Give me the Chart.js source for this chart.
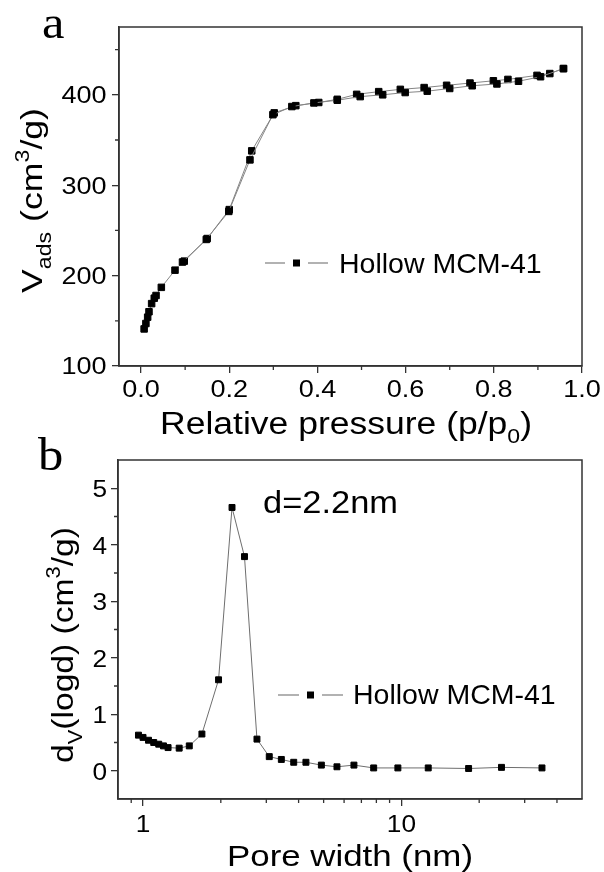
<!DOCTYPE html>
<html>
<head>
<meta charset="utf-8">
<script src="https://cdn.jsdelivr.net/npm/chart.js@4.4.1/dist/chart.umd.min.js"></script>
<style>
  body { margin: 0; background: #fff; }
  canvas { position: absolute; left: 0; }
  #chart-a { top: 0; }
  #chart-b { top: 430px; }
</style>
</head>
<body>
<canvas id="chart-a" width="604" height="450"></canvas>
<canvas id="chart-b" width="604" height="442"></canvas>
<script>
// (a) isotherm, adsorption + desorption branches
const adsP = [0.007, 0.011, 0.015, 0.018, 0.024, 0.030, 0.034, 0.046, 0.077, 0.094, 0.148, 0.199, 0.247,
              0.299, 0.342, 0.392, 0.445, 0.497, 0.548, 0.599, 0.649, 0.700, 0.751, 0.807, 0.856, 0.906, 0.958];
const adsV = [141, 147, 154, 160, 169, 175, 178, 187, 206, 215, 240, 271, 328,
              378, 387, 391, 394, 398, 400, 402.5, 404, 407, 410, 412, 415, 420, 429];
const desP = [0.958, 0.927, 0.898, 0.832, 0.799, 0.746, 0.693, 0.642, 0.588, 0.539, 0.489, 0.445,
              0.403, 0.351, 0.302, 0.251, 0.200, 0.150, 0.098];
const desV = [429, 423.5, 421.5, 417, 415.5, 413, 410.5, 408, 406, 403.5, 400.5, 395,
              391.5, 388, 380, 338, 273, 241, 216];
const ticksXA = [0, 0.2, 0.4, 0.6, 0.8, 1.0];
const minorXA = [0.1, 0.3, 0.5, 0.7, 0.9];
const ticksYA = [100, 200, 300, 400];
const minorYA = [150, 250, 350, 450];

// (b) pore size distribution
const poreD = [0.96, 1.0, 1.05, 1.10, 1.15, 1.20, 1.25, 1.38, 1.51, 1.69, 1.96, 2.21, 2.47, 2.76,
               3.08, 3.43, 3.83, 4.27, 4.90, 5.63, 6.55, 7.81, 9.69, 12.7, 18.2, 24.4, 35.0];
const poreDV = [0.63, 0.59, 0.54, 0.50, 0.47, 0.44, 0.41, 0.40, 0.44, 0.65, 1.61, 4.66, 3.79, 0.56,
                0.25, 0.20, 0.15, 0.15, 0.10, 0.07, 0.10, 0.05, 0.05, 0.05, 0.04, 0.06, 0.05];
const ticksXB = [1, 10];
const minorXB = [0.9, 2, 3, 4, 5, 6, 7, 8, 9, 20, 30, 40];
const ticksYB = [0, 1, 2, 3, 4, 5];
const minorYB = [0.5, 1.5, 2.5, 3.5, 4.5];

const seriesName = 'Hollow MCM-41';
const SANS = '"Liberation Sans", Arial, sans-serif';
const SERIF = '"Liberation Serif", "Times New Roman", serif';
const AXIS = '#333';

function xy(xs, ys) {
    return xs.map((x, i) => ({ x: x, y: ys[i] }));
}

// text with sub/superscripts, optionally squeezed/stretched to a width
function drawRich(ctx, t) {
    const parts = typeof t.text === 'string' ? [{ t: t.text }] : t.text;
    const fam = t.serif ? SERIF : SANS;
    const small = t.size * 0.65;
    ctx.save();
    ctx.fillStyle = '#000';
    ctx.textAlign = 'left';
    ctx.textBaseline = 'alphabetic';
    let w = 0;
    const widths = parts.map(p => {
        ctx.font = (p.sub || p.sup ? small : t.size) + 'px ' + fam;
        const pw = ctx.measureText(p.t).width;
        w += pw;
        return pw;
    });
    const sx = t.width ? t.width / w : (t.stretch || 1);
    ctx.translate(t.x, t.y);
    if (t.rot) ctx.rotate(t.rot);
    ctx.scale(sx, 1);
    let cx = t.align === 'left' ? 0 : t.align === 'right' ? -w : -w / 2;
    parts.forEach((p, i) => {
        ctx.font = (p.sub || p.sup ? small : t.size) + 'px ' + fam;
        const dy = p.sub ? t.size * 0.3 : p.sup ? -t.size * 0.42 : 0;
        ctx.fillText(p.t, cx, dy);
        cx += widths[i];
    });
    ctx.restore();
}

function makeDecor(cfg) {
    return {
        id: 'decor',
        afterDatasetsDraw(chart) {
            const { ctx, chartArea: a, scales } = chart;
            ctx.save();
            ctx.strokeStyle = AXIS;
            ctx.lineWidth = 1.5;
            ctx.strokeRect(a.left, a.top, a.right - a.left, a.bottom - a.top);

            ctx.lineWidth = 1.3;
            ctx.beginPath();
            cfg.minorX.forEach(v => {
                const px = scales.x.getPixelForValue(v);
                ctx.moveTo(px, a.bottom);
                ctx.lineTo(px, a.bottom + 4);
            });
            cfg.minorY.forEach(v => {
                const py = scales.y.getPixelForValue(v);
                ctx.moveTo(a.left - 4, py);
                ctx.lineTo(a.left, py);
            });
            ctx.stroke();

            // tick labels at the scale's own tick positions
            const tk = cfg.tick;
            scales.x.ticks.forEach(t => {
                drawRich(ctx, { text: tk.fmtX(t.value), size: tk.size, stretch: tk.stretch,
                                x: scales.x.getPixelForValue(t.value), y: a.bottom + tk.dy });
            });
            scales.y.ticks.forEach(t => {
                drawRich(ctx, { text: tk.fmtY(t.value), size: tk.size, stretch: tk.stretch, align: 'right',
                                x: a.left - tk.dx, y: scales.y.getPixelForValue(t.value) + tk.size * 0.36 });
            });

            // legend sample: line - square - line
            const lg = cfg.legend;
            ctx.strokeStyle = '#999';
            ctx.lineWidth = 1.3;
            ctx.beginPath();
            ctx.moveTo(lg.x0, lg.y); ctx.lineTo(lg.x0 + lg.seg, lg.y);
            ctx.moveTo(lg.x0 + lg.seg + lg.gap * 2, lg.y); ctx.lineTo(lg.x0 + lg.seg * 2 + lg.gap * 2, lg.y);
            ctx.stroke();
            ctx.fillStyle = '#000';
            const mx = lg.x0 + lg.seg + lg.gap;
            ctx.fillRect(mx - 3.5, lg.y - 3.5, 7, 7);
            drawRich(ctx, { text: seriesName, x: lg.tx, y: lg.ty, size: 28.5, align: 'left' });

            cfg.texts.forEach(t => drawRich(ctx, t));
            ctx.restore();
        }
    };
}

function baseScale(ticksList, fitKey, fitVal) {
    return {
        afterBuildTicks: s => { s.ticks = ticksList.map(v => ({ value: v })); },
        afterFit: s => { s[fitKey] = fitVal; },
        grid: { display: true, drawOnChartArea: false, drawTicks: true, tickLength: 7, color: AXIS, lineWidth: 1.3 },
        border: { display: true, color: AXIS, width: 1.5 },
        ticks: { display: false, autoSkip: false, maxRotation: 0 }
    };
}

const lineStyle = {
    showLine: true,
    borderColor: '#858585',
    borderWidth: 1,
    pointStyle: 'rect',
    pointBackgroundColor: '#000',
    pointBorderColor: '#000',
    pointBorderWidth: 1
};

// chart a
const xA = baseScale(ticksXA, 'height', 84);
xA.type = 'linear';
xA.min = -0.05;
xA.max = 1.0;
const yA = baseScale(ticksYA, 'width', 119);
yA.min = 100;
yA.max = 475;

new Chart(document.getElementById('chart-a').getContext('2d'), {
    type: 'scatter',
    data: {
        datasets: [
            Object.assign({ label: seriesName, data: xy(adsP, adsV), pointRadius: 4.6 }, lineStyle),
            Object.assign({ label: seriesName + ' (des)', data: xy(desP, desV), pointRadius: 4.6 }, lineStyle)
        ]
    },
    options: {
        responsive: false,
        animation: false,
        layout: { padding: { top: 27, right: 22, left: 0, bottom: 0 } },
        plugins: { legend: { display: false }, tooltip: { enabled: false } },
        scales: { x: xA, y: yA }
    },
    plugins: [makeDecor({
        minorX: minorXA,
        minorY: minorYA,
        tick: { size: 23.5, stretch: 1.15, dy: 30.5, dx: 12.5, fmtX: v => v.toFixed(1), fmtY: v => String(v) },
        legend: { x0: 265, y: 263, seg: 20, gap: 11.5, tx: 339, ty: 273 },
        texts: [
            { text: 'a', serif: true, size: 46, stretch: 1.1, x: 42, y: 38, align: 'left' },
            { text: [{ t: 'Relative pressure (p/p' }, { t: '0', sub: true }, { t: ')' }],
              size: 31, width: 372, x: 346, y: 434 },
            { text: [{ t: 'V' }, { t: 'ads', sub: true }, { t: ' (cm' }, { t: '3', sup: true }, { t: '/g)' }],
              size: 30, width: 185, x: 42, y: 200.5, rot: -Math.PI / 2 }
        ]
    })]
});

// chart b
const xB = baseScale(ticksXB, 'height', 73);
xB.type = 'logarithmic';
xB.min = 0.8;
xB.max = 50;
const yB = baseScale(ticksYB, 'width', 118);
yB.min = -0.5;
yB.max = 5.5;

new Chart(document.getElementById('chart-b').getContext('2d'), {
    type: 'scatter',
    data: {
        datasets: [
            Object.assign({ label: seriesName, data: xy(poreD, poreDV), pointRadius: 4.2 }, lineStyle,
                { borderColor: '#6e6e6e' })
        ]
    },
    options: {
        responsive: false,
        animation: false,
        layout: { padding: { top: 30, right: 22, left: 0, bottom: 0 } },
        plugins: { legend: { display: false }, tooltip: { enabled: false } },
        scales: { x: xB, y: yB }
    },
    plugins: [makeDecor({
        minorX: minorXB,
        minorY: minorYB,
        tick: { size: 24.5, stretch: 1.07, dy: 33, dx: 11, fmtX: v => String(v), fmtY: v => String(v) },
        legend: { x0: 278, y: 265, seg: 21, gap: 11.5, tx: 353, ty: 274 },
        texts: [
            { text: 'b', serif: true, size: 46, stretch: 1.1, x: 38, y: 40, align: 'left' },
            { text: 'd=2.2nm', size: 30.5, width: 135, x: 263, y: 82.7, align: 'left' },
            { text: 'Pore width (nm)', size: 30, width: 246, x: 350, y: 436 },
            { text: [{ t: 'd' }, { t: 'V', sub: true }, { t: '(logd) (cm' }, { t: '3', sup: true }, { t: '/g)' }],
              size: 30, width: 236, x: 73, y: 215, rot: -Math.PI / 2 }
        ]
    })]
});
</script>
</body>
</html>
